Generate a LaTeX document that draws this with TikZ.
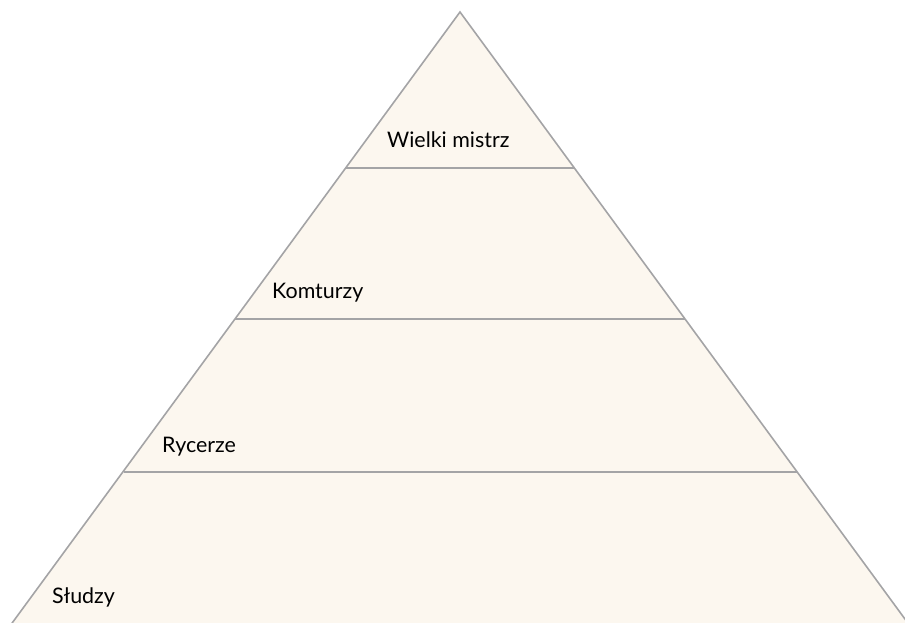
\documentclass[tikz,border=0pt]{standalone}
\usepackage{fontspec}
\setmainfont{Lato}
\definecolor{pyrfill}{HTML}{FCF7EF}
\definecolor{pyrline}{HTML}{A4A4A6}
\begin{document}
\begin{tikzpicture}[x=1bp,y=-1bp,
  tier/.style={draw=pyrline,line width=1.6bp},
  lbl/.style={anchor=base west,inner sep=0pt,font=\fontsize{21.5}{24}\selectfont,text=black}]
\useasboundingbox (0,0) rectangle (905,623);
\begin{scope}
\clip (0,0) rectangle (905,623);
\coordinate (apex) at (460,12);
\coordinate (bl) at (-4,645);
\coordinate (br) at (924,645);
\fill[pyrfill] (apex) -- (bl) -- (br) -- cycle;
\draw[tier,line join=miter] (bl) -- (apex) -- (br);
\coordinate (l1) at (346,168);
\coordinate (r1) at (574,168);
\coordinate (l2) at (235,319);
\coordinate (r2) at (685,319);
\coordinate (l3) at (124,472);
\coordinate (r3) at (797,472);
\draw[tier] (l1) -- (r1);
\draw[tier] (l2) -- (r2);
\draw[tier] (l3) -- (r3);
\end{scope}
\node[lbl] (t1) at (387,148) {Wielki mistrz};
\node[lbl] (t2) at (272,298) {Komturzy};
\node[lbl] (t3) at (162,452) {Rycerze};
\node[lbl] (t4) at (52,603) {Słudzy};
\end{tikzpicture}
\end{document}
